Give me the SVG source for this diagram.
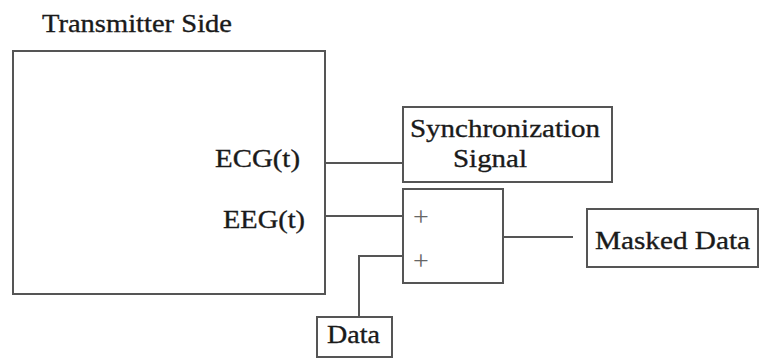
<svg xmlns="http://www.w3.org/2000/svg" width="760" height="358" viewBox="0 0 760 358">
<style>
.box{fill:#fff;stroke:#555;stroke-width:2}
.ln{fill:none;stroke:#555;stroke-width:2}
text{font-family:'Liberation Serif','DejaVu Serif',serif}
.t{font-size:26px;fill:#1a1a1a;stroke:#1a1a1a;stroke-width:0.35}
.p{font-size:28px;fill:#666}
</style>
<rect width="760" height="358" fill="#fff"/>
<g id="title"><text class="t" x="42" y="32" textLength="190" lengthAdjust="spacingAndGlyphs" font-family="Liberation Serif, serif">Transmitter Side</text></g>
<g id="connectors">
<path class="ln" d="M325 163H403"/>
<path class="ln" d="M325 216H403"/>
<path class="ln" d="M359 317V256H403"/>
<path class="ln" d="M501 237H573"/>
</g>
<g id="transmitter">
<rect class="box" x="13" y="51" width="312" height="243"/>
<text class="t" x="215" y="167" textLength="85" lengthAdjust="spacingAndGlyphs" font-family="Liberation Serif, serif">ECG(t)</text>
<text class="t" x="223" y="228" textLength="82" lengthAdjust="spacingAndGlyphs" font-family="Liberation Serif, serif">EEG(t)</text>
</g>
<g id="sync">
<rect class="box" x="403" y="107" width="209" height="75"/>
<text class="t" x="410" y="137" textLength="190" lengthAdjust="spacingAndGlyphs" font-family="Liberation Serif, serif">Synchronization</text>
<text class="t" x="453" y="167" textLength="74" lengthAdjust="spacingAndGlyphs" font-family="Liberation Serif, serif">Signal</text>
</g>
<g id="adder">
<rect class="box" x="403" y="189" width="100" height="94"/>
<text class="p" x="421" y="226" text-anchor="middle" font-family="Liberation Serif, serif">+</text>
<text class="p" x="421" y="270" text-anchor="middle" font-family="Liberation Serif, serif">+</text>
</g>
<g id="masked">
<rect class="box" x="587" y="209" width="171" height="58"/>
<text class="t" x="595" y="249" textLength="155" lengthAdjust="spacingAndGlyphs" font-family="Liberation Serif, serif">Masked Data</text>
</g>
<g id="data">
<rect class="box" x="317" y="317" width="75" height="40"/>
<text class="t" x="327" y="343" textLength="53" lengthAdjust="spacingAndGlyphs" font-family="Liberation Serif, serif">Data</text>
</g>
</svg>
